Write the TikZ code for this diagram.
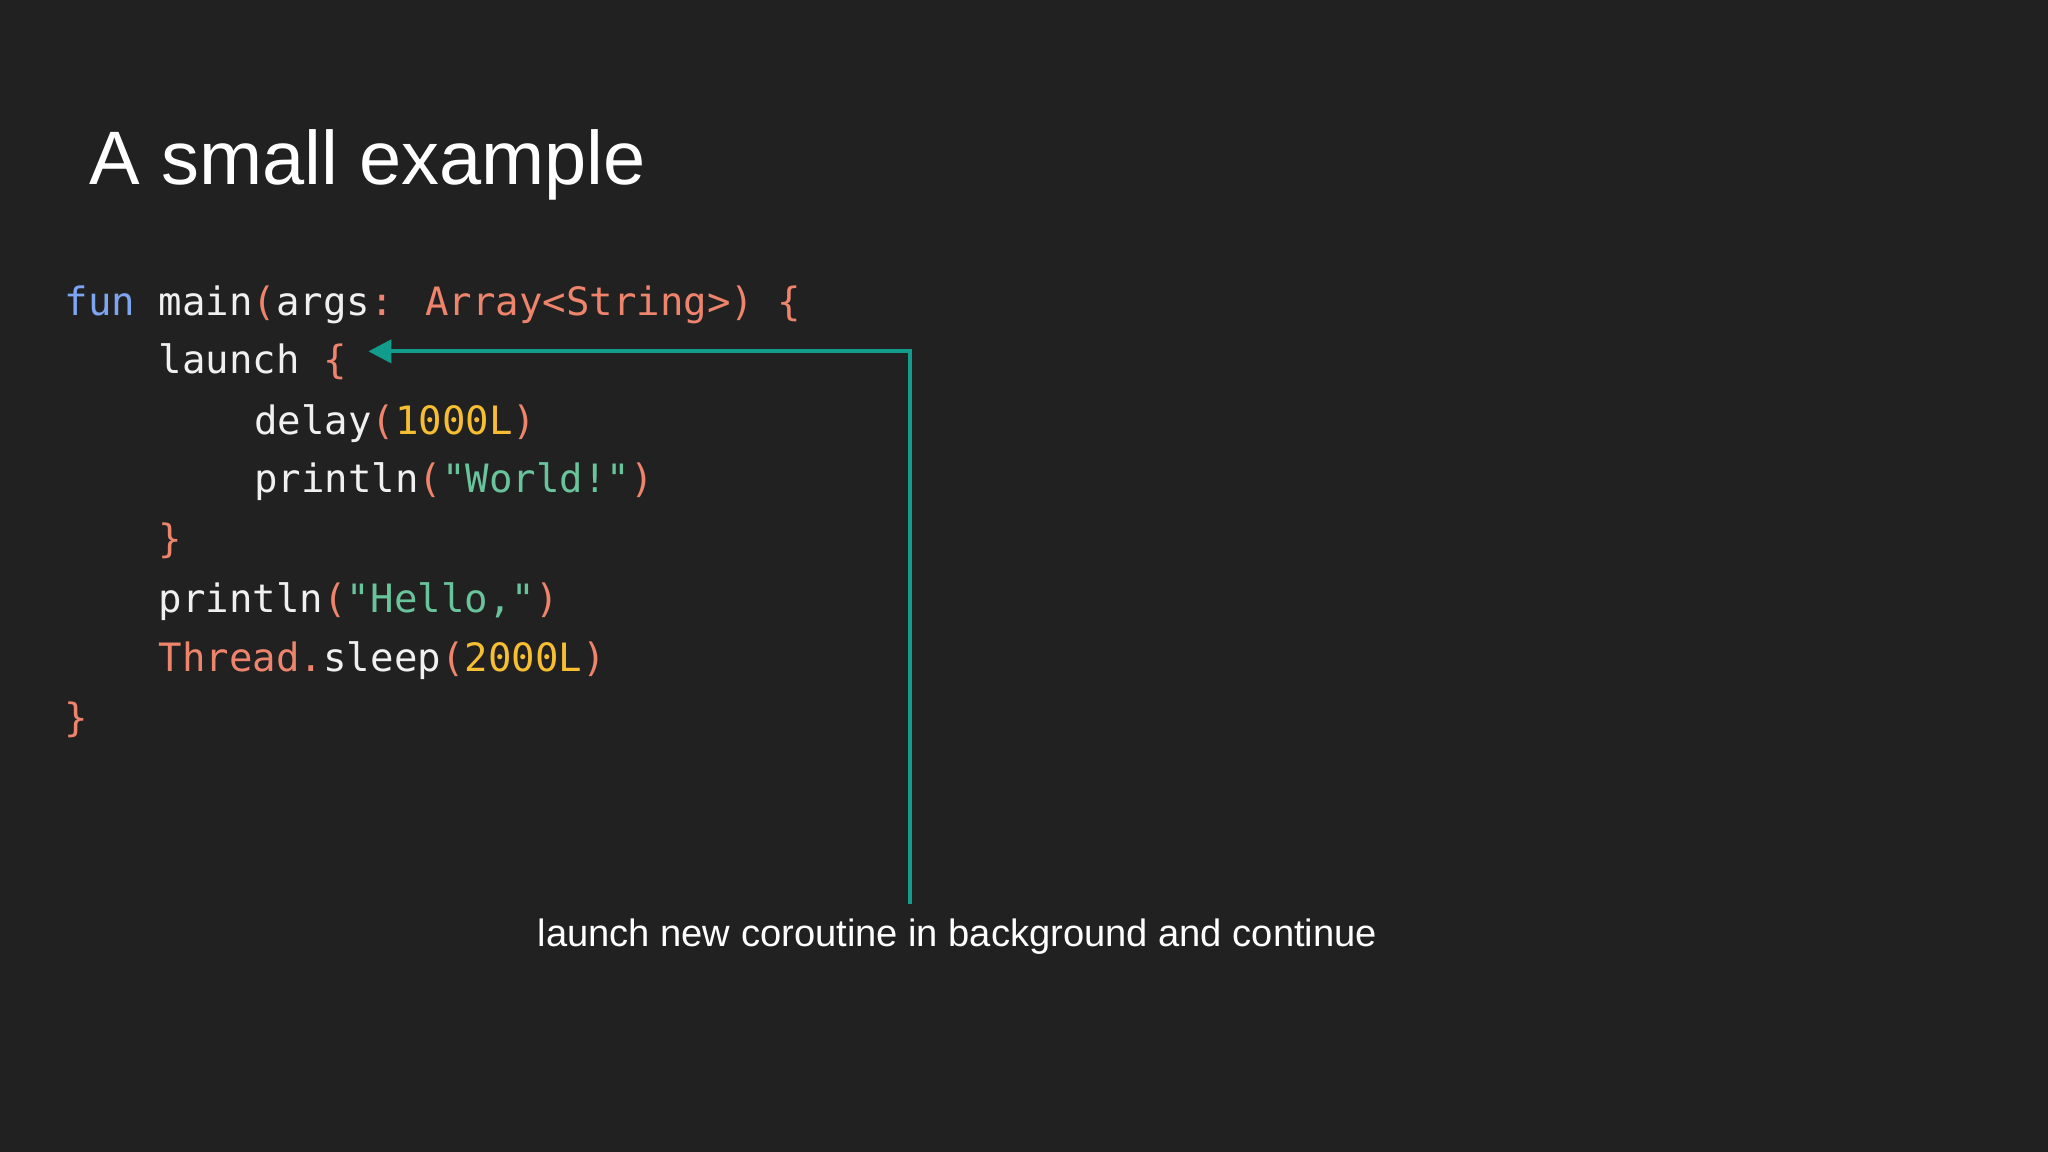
\documentclass[tikz,border=0pt]{standalone}
\usepackage{fontspec}
\setmainfont{Liberation Sans}
\newfontfamily\codefont{DejaVu Sans Mono}
\usetikzlibrary{arrows.meta}
\definecolor{bg}{RGB}{33,33,34}
\definecolor{kw}{RGB}{125,165,240}
\definecolor{pn}{RGB}{238,132,108}
\definecolor{nm}{RGB}{247,190,50}
\definecolor{st}{RGB}{105,195,155}
\definecolor{tx}{RGB}{240,240,240}
\definecolor{ar}{RGB}{18,156,140}
\newcommand{\cK}[1]{\textcolor{kw}{#1}}
\newcommand{\cP}[1]{\textcolor{pn}{#1}}
\newcommand{\cN}[1]{\textcolor{nm}{#1}}
\newcommand{\cS}[1]{\textcolor{st}{#1}}
\begin{document}
\begin{tikzpicture}[x=0.01cm,y=-0.01cm,
  code/.style={anchor=mid west,inner sep=0pt,text=tx,font=\codefont\fontsize{8.5pt}{10pt}\selectfont},
  arrowline/.style={draw=ar,line width=0.85pt,-{Triangle[length=5pt,width=5pt]}}]
\fill[bg] (0,0) rectangle (1568,882);
\useasboundingbox (0,0) rectangle (1568,882);
\node[anchor=mid west,inner sep=0pt,text=white,font=\fontsize{16.5pt}{19pt}\selectfont] (title) at (68,132) {A small example};
\node[code] (l1) at (49,232) {\cK{fun} main\cP{(}args\cP{: Array<String>)} \cP{\{}};
\node[code] (launch) at (121,277) {launch \cP{\{}};
\node[code] (l3) at (194,323) {delay\cP{(}\cN{1000L}\cP{)}};
\node[code] (l4) at (194,368) {println\cP{(}\cS{"World!"}\cP{)}};
\node[code] (l5) at (121,414) {\cP{\}}};
\node[code] (l6) at (121,460) {println\cP{(}\cS{"Hello,"}\cP{)}};
\node[code] (l7) at (121,505) {\cP{Thread.}sleep\cP{(}\cN{2000L}\cP{)}};
\node[code] (l8) at (49,551) {\cP{\}}};
\node[inner sep=0pt,text=white,font=\fontsize{8.3pt}{10pt}\selectfont] (lbl) at (733,717) {launch new coroutine in background and continue};
\coordinate (turn) at (697,269);
\coordinate (tip) at (282,269);
\coordinate (start) at (697,692);
\draw[arrowline] (start) -- (turn) -- (tip);
\end{tikzpicture}
\end{document}
